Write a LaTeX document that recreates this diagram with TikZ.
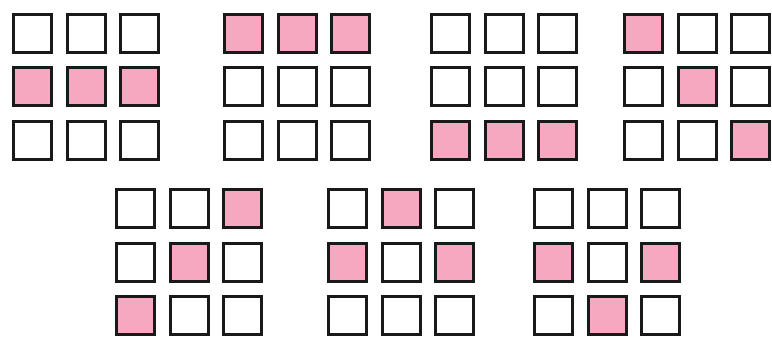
\documentclass[tikz,border=0pt]{standalone}
\definecolor{cellpink}{RGB}{246,168,192}
\tikzset{
  cell/.style={draw=black!90, line width=3pt, fill=white, minimum size=38pt, inner sep=0pt, outer sep=0pt},
  oncell/.style={cell, fill=cellpink}
}
\begin{document}
\begin{tikzpicture}[x=1pt,y=-1pt]
\useasboundingbox (0,0) rectangle (772,337);
\clip (0,0) rectangle (772,337);
% grids: name / left / top
\foreach \g/\gx/\gy in {a/12/13, b/223/13, c/430/13, d/623/13, e/115/188, f/327/188, h/533/188}{
  \foreach \r in {0,1,2}{
    \foreach \c in {0,1,2}{
      \node[cell] (\g\r\c) at ({\gx+20.5+53.5*\c},{\gy+20.5+53.5*\r}) {};
    }
  }
}
% pink cells: grid name / row / col
\foreach \g/\r/\c in {a/1/0,a/1/1,a/1/2, b/0/0,b/0/1,b/0/2, c/2/0,c/2/1,c/2/2,
  d/0/0,d/1/1,d/2/2, e/0/2,e/1/1,e/2/0, f/0/1,f/1/0,f/1/2, h/1/0,h/1/2,h/2/1}{
  \node[oncell] (p\g\r\c) at (\g\r\c) {};
}
\end{tikzpicture}
\end{document}
